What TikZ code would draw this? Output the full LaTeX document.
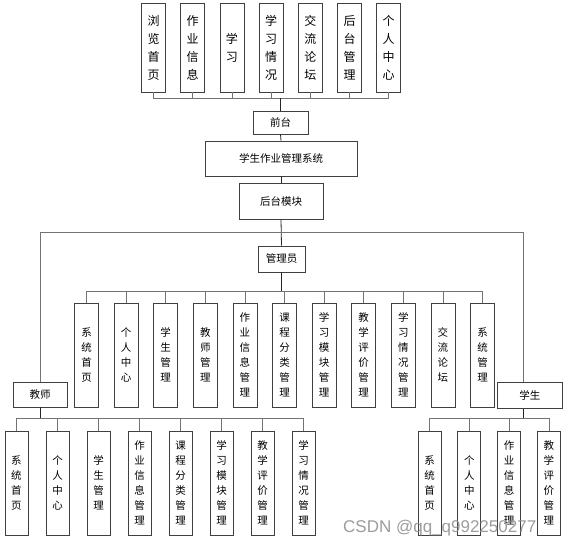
\documentclass[tikz,border=0pt]{standalone}
\usepackage{fontspec}
\setmainfont{Liberation Sans}
\newfontfamily\cjk{Noto Sans CJK SC}
\begin{document}
\begin{tikzpicture}[x=1pt,y=-1pt,
  box/.style={draw=black!75,line width=0.8pt,fill=white,inner sep=0pt,align=center},
  topbox/.style={box,minimum width=24pt,minimum height=89pt,font={\cjk\fontsize{12}{18}\selectfont}},
  modbox/.style={box,minimum width=24pt,minimum height=104pt,font={\cjk\fontsize{10.5}{15}\selectfont}},
  hbox/.style={box,font={\cjk\fontsize{10.5}{13}\selectfont}},
  bus/.style={draw=black!55,line width=0.8pt},
  trunk/.style={draw=black!85,line width=0.8pt}]
\useasboundingbox (0,0) rectangle (568,543);
\fill[white] (0,0) rectangle (568,543);

% top boxes
\foreach \t [count=\i from 0] in {浏\\览\\首\\页,作\\业\\信\\息,学\\习,学\\习\\情\\况,交\\流\\论\\坛,后\\台\\管\\理,个\\人\\中\\心}{
  \node[topbox] (t\i) at ({153.5+39.2*\i},47.5) {\t};
}
\coordinate (tb) at (280.5,98);
\node[hbox,minimum width=55pt,minimum height=23pt] (qt) at (280.5,122.5) {前台};
\foreach \i in {0,...,6}{ \draw[bus] (t\i.south) |- (tb); }
\draw[trunk] (tb) -- (qt.north);

\node[hbox,minimum width=152pt,minimum height=35pt] (sys) at (281,158.5) {学生作业管理系统};
\node[hbox,minimum width=84pt,minimum height=36pt] (ht) at (281,201) {后台模块};
\node[hbox,minimum width=47pt,minimum height=26pt] (gly) at (281.5,259) {管理员};
\draw[trunk] (qt.south) -- (sys.north);
\draw[trunk] (sys.south) -- (ht.south |- sys.south) -- (ht.north);
\draw[trunk] (ht.south) -- (gly.north);

\node[hbox,minimum width=54pt,minimum height=25pt] (js) at (40,394.5) {教师};
\node[hbox,minimum width=65pt,minimum height=26pt,anchor=north west] (xs) at (497,382) {学生};
\coordinate (hl) at (40,232);
\coordinate (hr) at (523,232);
\draw[bus] (js.north) -- (hl) -- (hr) -- (xs.north west -| hr);

% admin modules
\foreach \t [count=\i from 0] in {系\\统\\首\\页,个\\人\\中\\心,学\\生\\管\\理,教\\师\\管\\理,作\\业\\信\\息\\管\\理,课\\程\\分\\类\\管\\理,学\\习\\模\\块\\管\\理,教\\学\\评\\价\\管\\理,学\\习\\情\\况\\管\\理,交\\流\\论\\坛,系\\统\\管\\理}{
  \node[modbox] (a\i) at ({86.5+39.6*\i},355) {\t};
}
\coordinate (ab) at (281.5,291);
\draw[trunk] (gly.south) -- (ab);
\foreach \i in {0,...,10}{ \draw[bus] (a\i.north) |- (ab); }

% teacher modules
\foreach \t [count=\i from 0] in {系\\统\\首\\页,个\\人\\中\\心,学\\生\\管\\理,作\\业\\信\\息\\管\\理,课\\程\\分\\类\\管\\理,学\\习\\模\\块\\管\\理,教\\学\\评\\价\\管\\理,学\\习\\情\\况\\管\\理}{
  \node[modbox,minimum width=23pt] (j\i) at ({16.5+41*\i},483) {\t};
}
\coordinate (jb) at (40,418);
\draw[trunk] (js.south) -- (jb);
\foreach \i in {0,...,7}{ \draw[bus] (j\i.north) |- (jb); }

% student modules
\foreach \t [count=\i from 0] in {系\\统\\首\\页,个\\人\\中\\心,作\\业\\信\\息\\管\\理,教\\学\\评\\价\\管\\理}{
  \node[modbox,minimum width=23pt] (s\i) at ({429.5+39.8*\i},483) {\t};
}
\coordinate (sb) at (523,418);
\draw[trunk] (xs.south west -| sb) -- (sb);
\foreach \i in {0,...,3}{ \draw[bus] (s\i.north) |- (sb); }

% watermark
\node[anchor=base west,inner sep=0pt,text=black!45,opacity=0.85,font=\fontsize{17}{17}\selectfont] (wm) at (343,532) {CSDN @qq\_q992250277};
\end{tikzpicture}
\end{document}
